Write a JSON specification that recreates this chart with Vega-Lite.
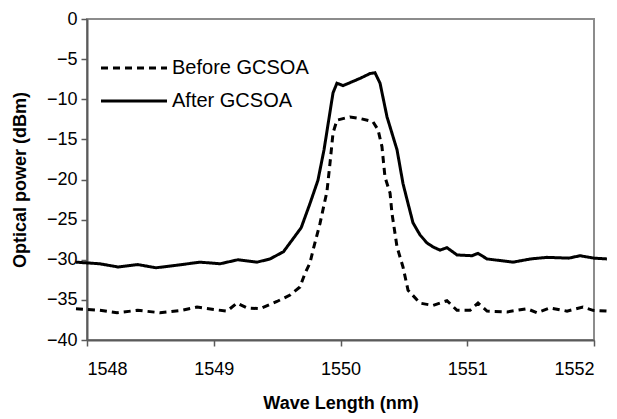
{
  "$schema": "https://vega.github.io/schema/vega-lite/v6.json",
  "width": 507,
  "height": 321,
  "autosize": {"type": "none"},
  "padding": {"left": 87, "top": 19, "right": 23, "bottom": 79},
  "background": "white",
  "config": {
    "view": {"stroke": "#8c8c8c", "strokeWidth": 2},
    "font": "Liberation Sans",
    "axis": {
      "grid": false,
      "domainColor": "#5a5a5a",
      "domainWidth": 2,
      "tickColor": "#5a5a5a",
      "tickWidth": 1.5,
      "tickSize": 6,
      "labelFont": "Liberation Sans",
      "labelFontSize": 18,
      "labelColor": "black",
      "titleFont": "Liberation Sans",
      "titleFontSize": 18,
      "titleFontWeight": "bold",
      "titleColor": "black"
    }
  },
  "data": {
    "values": [
      {"series": "Before GCSOA", "wl": 1547.913, "p": -36.1},
      {"series": "Before GCSOA", "wl": 1548.10, "p": -36.3},
      {"series": "Before GCSOA", "wl": 1548.237, "p": -36.6},
      {"series": "Before GCSOA", "wl": 1548.40, "p": -36.3},
      {"series": "Before GCSOA", "wl": 1548.576, "p": -36.6},
      {"series": "Before GCSOA", "wl": 1548.75, "p": -36.3},
      {"series": "Before GCSOA", "wl": 1548.868, "p": -35.9},
      {"series": "Before GCSOA", "wl": 1549.00, "p": -36.2},
      {"series": "Before GCSOA", "wl": 1549.105, "p": -36.4},
      {"series": "Before GCSOA", "wl": 1549.183, "p": -35.4},
      {"series": "Before GCSOA", "wl": 1549.262, "p": -36.0},
      {"series": "Before GCSOA", "wl": 1549.365, "p": -36.1},
      {"series": "Before GCSOA", "wl": 1549.499, "p": -35.2},
      {"series": "Before GCSOA", "wl": 1549.602, "p": -34.4},
      {"series": "Before GCSOA", "wl": 1549.680, "p": -33.4},
      {"series": "Before GCSOA", "wl": 1549.720, "p": -31.7},
      {"series": "Before GCSOA", "wl": 1549.759, "p": -30.4},
      {"series": "Before GCSOA", "wl": 1549.790, "p": -28.4},
      {"series": "Before GCSOA", "wl": 1549.838, "p": -25.5},
      {"series": "Before GCSOA", "wl": 1549.893, "p": -21.5},
      {"series": "Before GCSOA", "wl": 1549.917, "p": -18.0},
      {"series": "Before GCSOA", "wl": 1549.941, "p": -14.2},
      {"series": "Before GCSOA", "wl": 1549.972, "p": -12.6},
      {"series": "Before GCSOA", "wl": 1550.075, "p": -12.2},
      {"series": "Before GCSOA", "wl": 1550.154, "p": -12.4},
      {"series": "Before GCSOA", "wl": 1550.256, "p": -12.8},
      {"series": "Before GCSOA", "wl": 1550.296, "p": -13.8},
      {"series": "Before GCSOA", "wl": 1550.327, "p": -15.9},
      {"series": "Before GCSOA", "wl": 1550.351, "p": -19.7},
      {"series": "Before GCSOA", "wl": 1550.391, "p": -21.7},
      {"series": "Before GCSOA", "wl": 1550.406, "p": -24.2},
      {"series": "Before GCSOA", "wl": 1550.446, "p": -28.4},
      {"series": "Before GCSOA", "wl": 1550.493, "p": -30.9},
      {"series": "Before GCSOA", "wl": 1550.533, "p": -33.8},
      {"series": "Before GCSOA", "wl": 1550.627, "p": -35.4},
      {"series": "Before GCSOA", "wl": 1550.730, "p": -35.7},
      {"series": "Before GCSOA", "wl": 1550.840, "p": -35.1},
      {"series": "Before GCSOA", "wl": 1550.919, "p": -36.3},
      {"series": "Before GCSOA", "wl": 1551.022, "p": -36.3},
      {"series": "Before GCSOA", "wl": 1551.085, "p": -35.4},
      {"series": "Before GCSOA", "wl": 1551.156, "p": -36.4},
      {"series": "Before GCSOA", "wl": 1551.314, "p": -36.5},
      {"series": "Before GCSOA", "wl": 1551.471, "p": -36.1},
      {"series": "Before GCSOA", "wl": 1551.550, "p": -36.6},
      {"series": "Before GCSOA", "wl": 1551.653, "p": -36.0},
      {"series": "Before GCSOA", "wl": 1551.787, "p": -36.4},
      {"series": "Before GCSOA", "wl": 1551.913, "p": -35.9},
      {"series": "Before GCSOA", "wl": 1551.992, "p": -36.3},
      {"series": "Before GCSOA", "wl": 1552.102, "p": -36.4},
      {"series": "After GCSOA", "wl": 1547.913, "p": -30.3},
      {"series": "After GCSOA", "wl": 1548.10, "p": -30.5},
      {"series": "After GCSOA", "wl": 1548.245, "p": -30.9},
      {"series": "After GCSOA", "wl": 1548.40, "p": -30.6},
      {"series": "After GCSOA", "wl": 1548.544, "p": -31.0},
      {"series": "After GCSOA", "wl": 1548.70, "p": -30.7},
      {"series": "After GCSOA", "wl": 1548.892, "p": -30.3},
      {"series": "After GCSOA", "wl": 1549.05, "p": -30.5},
      {"series": "After GCSOA", "wl": 1549.191, "p": -30.0},
      {"series": "After GCSOA", "wl": 1549.341, "p": -30.3},
      {"series": "After GCSOA", "wl": 1549.444, "p": -29.9},
      {"series": "After GCSOA", "wl": 1549.55, "p": -29.0},
      {"series": "After GCSOA", "wl": 1549.625, "p": -27.4},
      {"series": "After GCSOA", "wl": 1549.690, "p": -26.0},
      {"series": "After GCSOA", "wl": 1549.759, "p": -23.0},
      {"series": "After GCSOA", "wl": 1549.822, "p": -20.1},
      {"series": "After GCSOA", "wl": 1549.870, "p": -16.3},
      {"series": "After GCSOA", "wl": 1549.941, "p": -9.2},
      {"series": "After GCSOA", "wl": 1549.972, "p": -8.0},
      {"series": "After GCSOA", "wl": 1550.020, "p": -8.3},
      {"series": "After GCSOA", "wl": 1550.080, "p": -7.9},
      {"series": "After GCSOA", "wl": 1550.154, "p": -7.4},
      {"series": "After GCSOA", "wl": 1550.233, "p": -6.8},
      {"series": "After GCSOA", "wl": 1550.272, "p": -6.7},
      {"series": "After GCSOA", "wl": 1550.312, "p": -8.0},
      {"series": "After GCSOA", "wl": 1550.367, "p": -12.2},
      {"series": "After GCSOA", "wl": 1550.446, "p": -16.3},
      {"series": "After GCSOA", "wl": 1550.493, "p": -20.5},
      {"series": "After GCSOA", "wl": 1550.525, "p": -22.5},
      {"series": "After GCSOA", "wl": 1550.572, "p": -25.4},
      {"series": "After GCSOA", "wl": 1550.627, "p": -26.9},
      {"series": "After GCSOA", "wl": 1550.682, "p": -27.9},
      {"series": "After GCSOA", "wl": 1550.730, "p": -28.4},
      {"series": "After GCSOA", "wl": 1550.785, "p": -28.8},
      {"series": "After GCSOA", "wl": 1550.840, "p": -28.5},
      {"series": "After GCSOA", "wl": 1550.919, "p": -29.4},
      {"series": "After GCSOA", "wl": 1551.037, "p": -29.5},
      {"series": "After GCSOA", "wl": 1551.085, "p": -29.2},
      {"series": "After GCSOA", "wl": 1551.156, "p": -29.9},
      {"series": "After GCSOA", "wl": 1551.361, "p": -30.3},
      {"series": "After GCSOA", "wl": 1551.500, "p": -29.9},
      {"series": "After GCSOA", "wl": 1551.629, "p": -29.7},
      {"series": "After GCSOA", "wl": 1551.800, "p": -29.8},
      {"series": "After GCSOA", "wl": 1551.890, "p": -29.5},
      {"series": "After GCSOA", "wl": 1552.000, "p": -29.8},
      {"series": "After GCSOA", "wl": 1552.102, "p": -29.9}
    ]
  },
  "mark": {"type": "line", "clip": false, "color": "black", "strokeWidth": 3, "interpolate": "linear"},
  "encoding": {
    "x": {
      "field": "wl",
      "type": "quantitative",
      "title": "Wave Length (nm)",
      "scale": {"domain": [1548, 1552], "nice": false, "zero": false},
      "axis": {"values": [1548, 1549, 1550, 1551, 1552], "format": "d", "labelPadding": 14, "titlePadding": 16}
    },
    "y": {
      "field": "p",
      "type": "quantitative",
      "title": "Optical power (dBm)",
      "scale": {"domain": [-40, 0], "nice": false, "zero": false},
      "axis": {"values": [-40, -35, -30, -25, -20, -15, -10, -5, 0], "labelPadding": 4, "titlePadding": 17}
    },
    "strokeDash": {
      "field": "series",
      "type": "nominal",
      "scale": {"domain": ["Before GCSOA", "After GCSOA"], "range": [[7, 5], [1, 0]]},
      "legend": {
        "title": null,
        "orient": "none",
        "legendX": 29,
        "legendY": 31,
        "padding": 0,
        "symbolType": "M-2,0H2",
        "symbolSize": 1089,
        "symbolStrokeWidth": 3,
        "symbolStrokeColor": "black",
        "rowPadding": 5,
        "labelFont": "Liberation Sans",
        "labelFontSize": 20,
        "labelColor": "black",
        "labelOffset": 20,
        "labelLimit": 300
      }
    }
  }
}
